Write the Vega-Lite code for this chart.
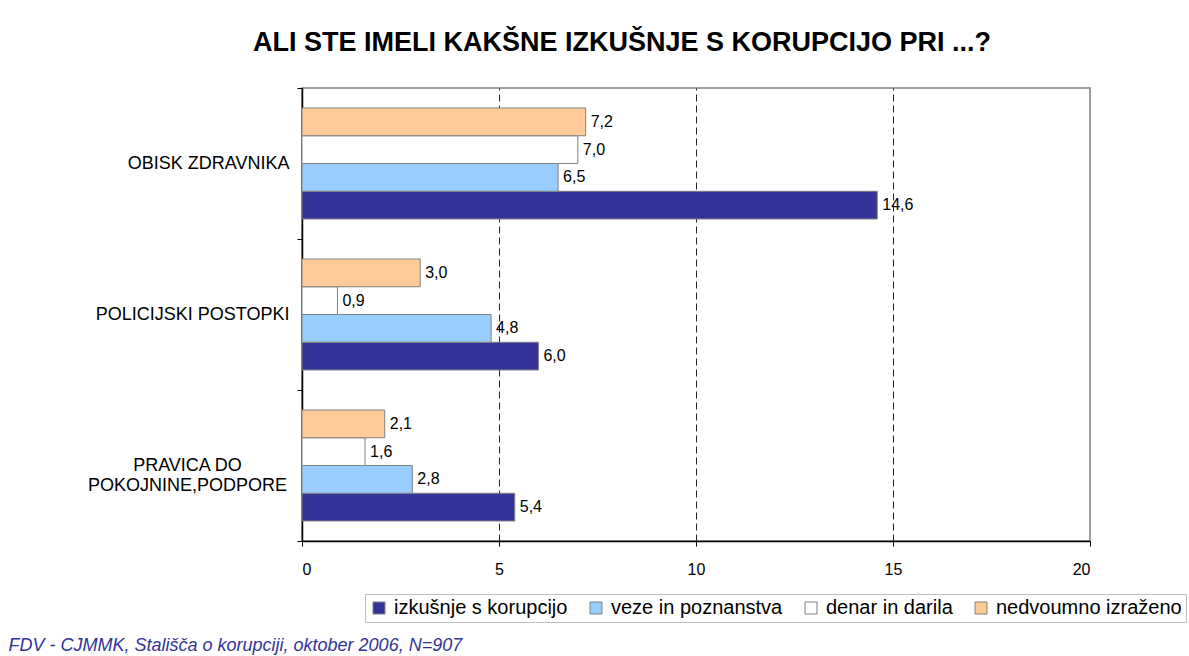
{
  "$schema": "https://vega.github.io/schema/vega-lite/v6.json",
  "width": 788,
  "height": 453,
  "autosize": {"type": "none"},
  "padding": {"left": 302, "top": 88, "right": 99, "bottom": 115},
  "background": "white",
  "config": {
    "locale": {"number": {"decimal": ",", "thousands": ".", "grouping": [3], "currency": ["", " €"]}},
    "font": "Liberation Sans",
    "view": {"stroke": "#808080", "strokeWidth": 1.5}
  },
  "title": {
    "text": "ALI STE IMELI KAKŠNE IZKUŠNJE S KORUPCIJO PRI ...?",
    "font": "Liberation Sans",
    "fontSize": 27,
    "fontWeight": "bold",
    "color": "black",
    "anchor": "middle",
    "frame": "group",
    "baseline": "alphabetic",
    "dx": -74,
    "offset": 1
  },
  "data": {
    "values": [
      {"kategorija": "OBISK ZDRAVNIKA", "serija": "izkušnje s korupcijo", "vrednost": 14.6},
      {"kategorija": "OBISK ZDRAVNIKA", "serija": "veze in poznanstva", "vrednost": 6.5},
      {"kategorija": "OBISK ZDRAVNIKA", "serija": "denar in darila", "vrednost": 7.0},
      {"kategorija": "OBISK ZDRAVNIKA", "serija": "nedvoumno izraženo", "vrednost": 7.2},
      {"kategorija": "POLICIJSKI POSTOPKI", "serija": "izkušnje s korupcijo", "vrednost": 6.0},
      {"kategorija": "POLICIJSKI POSTOPKI", "serija": "veze in poznanstva", "vrednost": 4.8},
      {"kategorija": "POLICIJSKI POSTOPKI", "serija": "denar in darila", "vrednost": 0.9},
      {"kategorija": "POLICIJSKI POSTOPKI", "serija": "nedvoumno izraženo", "vrednost": 3.0},
      {"kategorija": "PRAVICA DO POKOJNINE,PODPORE", "serija": "izkušnje s korupcijo", "vrednost": 5.4},
      {"kategorija": "PRAVICA DO POKOJNINE,PODPORE", "serija": "veze in poznanstva", "vrednost": 2.8},
      {"kategorija": "PRAVICA DO POKOJNINE,PODPORE", "serija": "denar in darila", "vrednost": 1.6},
      {"kategorija": "PRAVICA DO POKOJNINE,PODPORE", "serija": "nedvoumno izraženo", "vrednost": 2.1}
    ]
  },
  "encoding": {
    "y": {
      "field": "kategorija",
      "type": "nominal",
      "scale": {
        "domain": ["OBISK ZDRAVNIKA", "POLICIJSKI POSTOPKI", "PRAVICA DO POKOJNINE,PODPORE"],
        "paddingInner": 0,
        "paddingOuter": 0
      },
      "axis": {
        "title": null,
        "domainColor": "black",
        "domainWidth": 1.5,
        "tickBand": "extent",
        "tickColor": "black",
        "tickSize": 5,
        "labelFontSize": 18,
        "labelColor": "black",
        "labelLimit": 400,
        "labelExpr": "datum.label == 'PRAVICA DO POKOJNINE,PODPORE' ? ['PRAVICA DO', 'POKOJNINE,PODPORE'] : datum.label",
        "labelAlign": {"condition": {"test": "datum.value == 'PRAVICA DO POKOJNINE,PODPORE'", "value": "center"}, "value": "right"},
        "labelPadding": {"condition": {"test": "datum.value == 'PRAVICA DO POKOJNINE,PODPORE'", "value": 110}, "value": 8}
      }
    },
    "yOffset": {
      "field": "serija",
      "type": "nominal",
      "scale": {
        "domain": ["nedvoumno izraženo", "denar in darila", "veze in poznanstva", "izkušnje s korupcijo"],
        "paddingInner": 0,
        "paddingOuter": 0.72
      }
    },
    "x": {
      "field": "vrednost",
      "type": "quantitative",
      "scale": {"domain": [0, 20], "nice": false},
      "axis": {
        "values": [0, 5, 10, 15, 20],
        "domainColor": "black",
        "domainWidth": 1.5,
        "tickColor": "black",
        "tickSize": 5,
        "labelFontSize": 16,
        "labelColor": "black",
        "labelPadding": 15,
        "format": "d",
        "grid": true,
        "gridDash": [7, 4],
        "gridWidth": 1,
        "gridColor": {"condition": {"test": "datum.value == 0 || datum.value == 20", "value": "transparent"}, "value": "#222222"},
        "title": "FDV - CJMMK, Stališča o korupciji, oktober 2006, N=907",
        "titleFont": "Liberation Sans",
        "titleFontSize": 18,
        "titleFontStyle": "italic",
        "titleFontWeight": "normal",
        "titleColor": "#333399",
        "titleAlign": "left",
        "titleAnchor": "start",
        "titleBaseline": "alphabetic",
        "titleX": -294,
        "titleY": 109
      }
    }
  },
  "layer": [
    {
      "mark": {"type": "bar", "stroke": "#808080", "strokeWidth": 1},
      "encoding": {
        "color": {
          "field": "serija",
          "type": "nominal",
          "scale": {
            "domain": ["izkušnje s korupcijo", "veze in poznanstva", "denar in darila", "nedvoumno izraženo"],
            "range": ["#333399", "#99CCFF", "#FFFFFF", "#FFCC99"]
          },
          "legend": {
            "title": null,
            "orient": "none",
            "direction": "horizontal",
            "legendX": 63,
            "legendY": 506,
            "symbolType": "square",
            "symbolSize": 144,
            "symbolStrokeColor": "#808080",
            "symbolStrokeWidth": 1,
            "labelFontSize": 20,
            "labelColor": "black",
            "labelOffset": 5,
            "labelLimit": 300,
            "columnPadding": 18,
            "padding": 4,
            "strokeColor": "#bfbfbf",
            "fillColor": "white"
          }
        }
      }
    },
    {
      "mark": {"type": "text", "align": "left", "baseline": "middle", "dx": 5, "fontSize": 16, "color": "black"},
      "encoding": {
        "text": {"field": "vrednost", "type": "quantitative", "format": ".1f"}
      }
    }
  ]
}
